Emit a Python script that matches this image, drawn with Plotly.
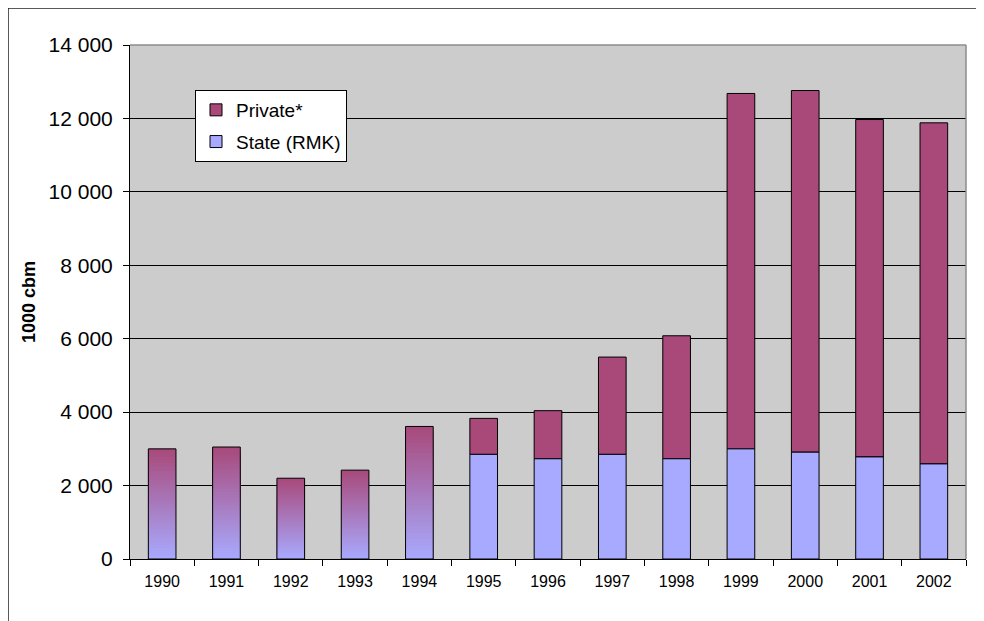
import plotly.graph_objs as go
import numpy as np

years = ["1990", "1991", "1992", "1993", "1994", "1995", "1996",
         "1997", "1998", "1999", "2000", "2001", "2002"]

# 1990-1994: only the total is known (drawn with a blue-to-purple fill)
early_years = ["1990", "1991", "1992", "1993", "1994"]
early_total = [3000, 3050, 2200, 2420, 3610]

# 1995-2002: split into state and private
late_years = ["1995", "1996", "1997", "1998", "1999", "2000", "2001", "2002"]
state = [2850, 2730, 2850, 2730, 3000, 2910, 2780, 2590]
private = [980, 1310, 2650, 3350, 9680, 9850, 9190, 9290]

y_ticks = [0, 2000, 4000, 6000, 8000, 10000, 12000, 14000]

PURPLE = (168, 73, 122)
BLUE = (168, 170, 255)
BAR_WIDTH = 0.43

fig = go.Figure()

# gradient fill for the early bars: bars from the axis up to each step,
# tallest first, so the shorter ones paint over them without gaps
n_steps = 40
early_total = np.array(early_total, dtype=float)
for k in range(n_steps, 0, -1):
    t = (k - 0.5) / n_steps
    c = [round(BLUE[i] + (PURPLE[i] - BLUE[i]) * t) for i in range(3)]
    fig.add_trace(go.Bar(
        x=early_years,
        y=early_total * k / n_steps,
        width=BAR_WIDTH,
        marker=dict(color="rgb(%d,%d,%d)" % tuple(c), line=dict(width=0)),
        showlegend=False,
        hoverinfo="skip",
    ))

# outline of the early bars
fig.add_trace(go.Bar(
    x=early_years,
    y=early_total,
    width=BAR_WIDTH,
    marker=dict(color="rgba(0,0,0,0)", line=dict(color="black", width=1)),
    showlegend=False,
))

fig.add_trace(go.Bar(
    x=late_years,
    y=private,
    base=state,
    name="Private*",
    legendgroup="p",
    width=BAR_WIDTH,
    marker=dict(color="rgb(%d,%d,%d)" % PURPLE, line=dict(color="black", width=1)),
))

fig.add_trace(go.Bar(
    x=late_years,
    y=state,
    name="State (RMK)",
    legendgroup="s",
    width=BAR_WIDTH,
    marker=dict(color="rgb(%d,%d,%d)" % BLUE, line=dict(color="black", width=1)),
))

# outer frame of the chart (only top and left edges are in view)
frame_left = (8 - 130) / 836
frame_top = (559 - 8) / 514
fig.add_shape(type="line", xref="paper", yref="paper",
              x0=frame_left, x1=1.1, y0=frame_top, y1=frame_top,
              line=dict(color="#222222", width=1.5))
fig.add_shape(type="line", xref="paper", yref="paper",
              x0=frame_left, x1=frame_left, y0=-0.2, y1=frame_top,
              line=dict(color="#222222", width=1.5))

# grey edge of the plot area on top and right
fig.add_shape(type="line", xref="paper", yref="paper", x0=0, x1=1, y0=1, y1=1,
              line=dict(color="#8c8c8c", width=1.5))
fig.add_shape(type="line", xref="paper", yref="paper", x0=1, x1=1, y0=0, y1=1,
              line=dict(color="#8c8c8c", width=1.5))

fig.update_layout(
    width=976,
    height=613,
    barmode="overlay",
    separators=". ",
    paper_bgcolor="white",
    plot_bgcolor="#cccccc",
    margin=dict(l=122, r=18, t=37, b=62),
    font=dict(family="Liberation Sans, Arial, sans-serif", color="black"),
    legend=dict(
        x=(195 - 130) / 836, y=(559 - 90) / 514, xanchor="left", yanchor="top",
        bgcolor="white", bordercolor="black", borderwidth=1,
        font=dict(size=19), traceorder="grouped", tracegroupgap=4,
        itemwidth=30,
    ),
    xaxis=dict(
        type="category",
        categoryorder="array",
        categoryarray=years,
        range=[-0.5, len(years) - 0.5],
        showline=True, linecolor="black", linewidth=1,
        ticks="outside", tickson="boundaries", ticklen=6, tickcolor="black",
        tickfont=dict(size=16), ticklabelstandoff=8,
        showgrid=False,
    ),
    yaxis=dict(
        range=[0, 14000],
        tickvals=y_ticks,
        tickformat=",d",
        showline=True, linecolor="black", linewidth=1,
        ticks="outside", ticklen=6, tickcolor="black",
        tickfont=dict(size=21), ticklabelstandoff=6,
        gridcolor="black", gridwidth=1,
        zeroline=False,
        title=dict(text="<b>1000 cbm</b>", font=dict(size=18), standoff=8),
    ),
)

fig.write_html("out.html")
